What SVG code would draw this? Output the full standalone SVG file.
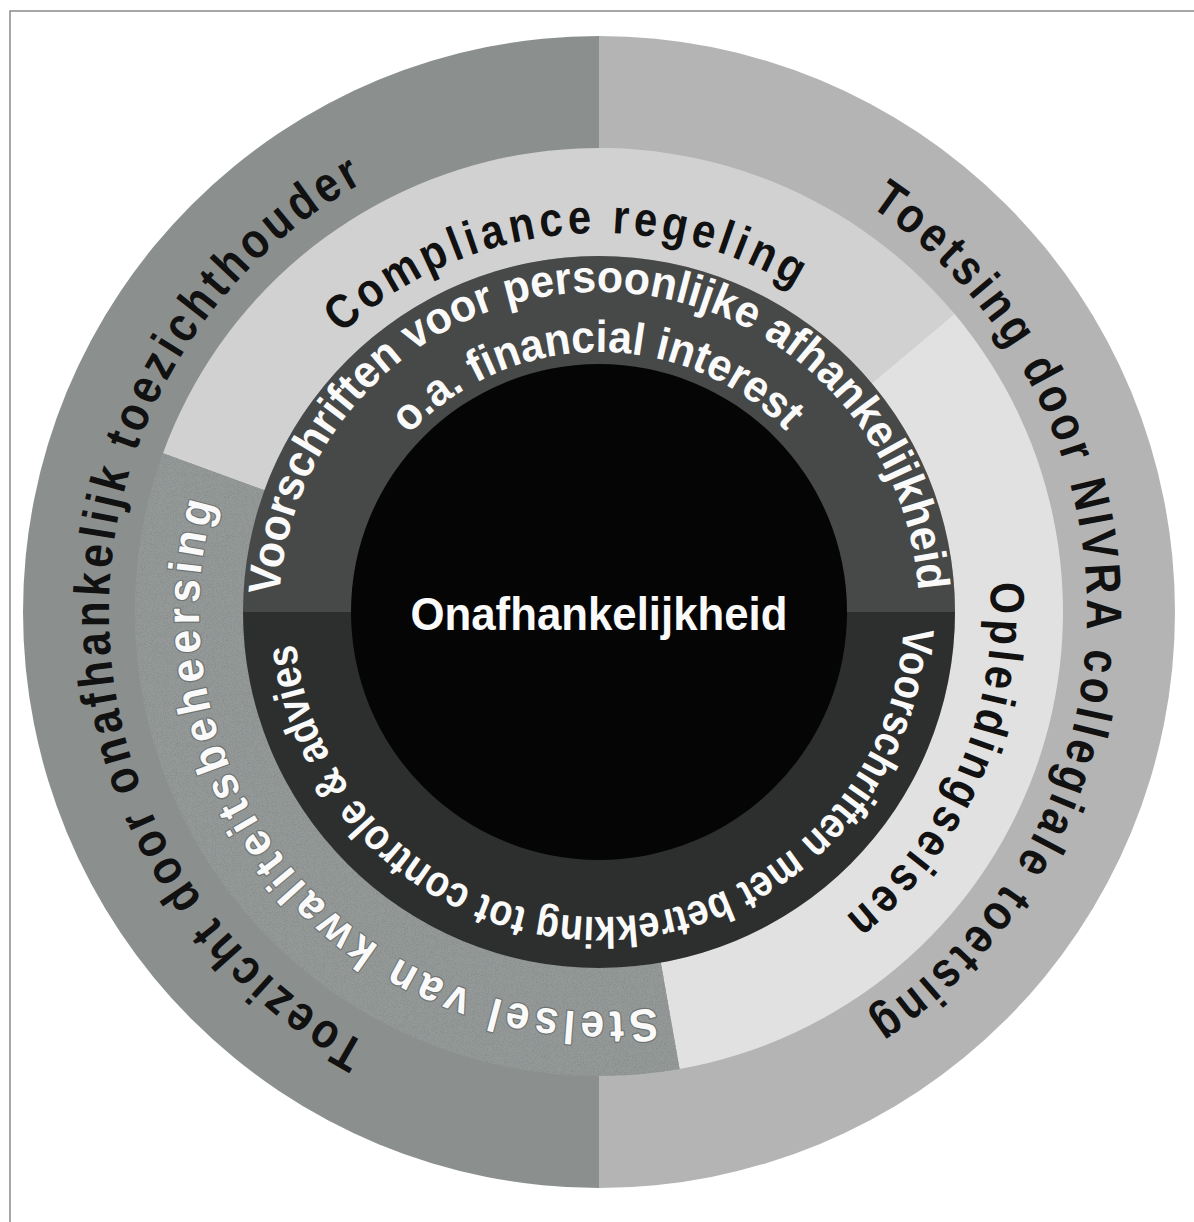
<svg xmlns="http://www.w3.org/2000/svg" xmlns:xlink="http://www.w3.org/1999/xlink" width="1194" height="1222" viewBox="0 0 1194 1222">
<style>
.lbl{font-family:"Liberation Sans",Arial,Helvetica,sans-serif;font-weight:bold;}
.blk{fill:#111;}
.wht{fill:#fafafa;}
.out{fill:#fafafa;stroke:#6f7473;stroke-width:2.5;paint-order:stroke;stroke-linejoin:round;}
</style>
<defs>
<filter id="speckle" x="0" y="0" width="1" height="1">
<feTurbulence type="fractalNoise" baseFrequency="0.9" numOctaves="2" seed="7" result="noise"/>
<feColorMatrix in="noise" type="matrix" values="0 0 0 0 0.26 0 0 0 0 0.28 0 0 0 0 0.28 0 0 0 -12 5.8" result="dots"/>
<feComposite in="dots" in2="SourceGraphic" operator="in" result="d2"/>
<feMerge><feMergeNode in="SourceGraphic"/><feMergeNode in="d2"/></feMerge>
</filter>
<path id="pA" d="M366.70 1043.44 A490 490 0 0 1 513.91 129.44"/>
<path id="pB" d="M869.76 206.01 A488 488 0 0 1 725.30 1083.37"/>
<path id="pC" d="M341.49 333.92 A379 379 0 0 1 889.33 368.38"/>
<path id="pD" d="M989.90 582.61 A392 392 0 0 1 700.46 990.64"/>
<path id="pE" d="M656.05 1007.91 A400 400 0 0 1 292.58 354.88"/>
<path id="pF" d="M279.44 595.25 A320 320 0 1 1 914.14 667.57"/>
<path id="pG" d="M408.85 434.68 A260 260 0 0 1 843.32 523.07"/>
<path id="pH" d="M903.58 627.96 A305 305 0 1 1 312.40 507.68"/>
</defs>
<rect x="0" y="0" width="1194" height="1222" fill="#fff"/>
<rect id="frame" x="10" y="11" width="1200" height="1230" fill="none" stroke="#8a8a8a" stroke-width="1.5"/>

<g id="ring-outer-left">
<path d="M599 36 A576 576 0 0 0 599 1188 Z" fill="#8b908f"/>
</g>
<g id="ring-outer-right">
<path d="M599 36 A576 576 0 0 1 599 1188 Z" fill="#b4b4b4"/>
</g>
<g id="seg-compliance">
<path d="M162.98 453.30 A464 464 0 0 1 954.44 313.75 L871.71 383.17 A356 356 0 0 0 264.47 490.24 Z" fill="#d1d1d1"/>
</g>
<g id="seg-opleiding">
<path d="M954.44 313.75 A464 464 0 0 1 679.57 1068.95 L660.82 962.59 A356 356 0 0 0 871.71 383.17 Z" fill="#e1e1e1"/>
</g>
<g id="seg-stelsel">
<path d="M679.57 1068.95 A464 464 0 0 1 162.98 453.30 L264.47 490.24 A356 356 0 0 0 660.82 962.59 Z" fill="#949998" filter="url(#speckle)"/>
</g>
<g id="ring-dark-top">
<path d="M243 612 A356 356 0 0 1 955 612 Z" fill="#464948"/>
</g>
<g id="ring-dark-bottom">
<path d="M955 612 A356 356 0 0 1 243 612 Z" fill="#2c2f2e"/>
</g>
<g id="core">
<circle cx="599" cy="612" r="248" fill="#050505"/>
<text class="lbl wht" x="410.5" y="630" font-size="47" textLength="377" lengthAdjust="spacingAndGlyphs">Onafhankelijkheid</text>
</g>

<g id="labels">
<text class="lbl blk" font-size="50" letter-spacing="5"><textPath href="#pA" xlink:href="#pA" textLength="1055" lengthAdjust="spacingAndGlyphs">Toezicht door onafhankelijk toezichthouder</textPath></text>
<text class="lbl blk" font-size="50" letter-spacing="5"><textPath href="#pB" xlink:href="#pB" textLength="964" lengthAdjust="spacingAndGlyphs">Toetsing door NIVRA collegiale toetsing</textPath></text>
<text class="lbl blk" font-size="48" letter-spacing="5"><textPath href="#pC" xlink:href="#pC" textLength="493" lengthAdjust="spacingAndGlyphs">Compliance regeling</textPath></text>
<text class="lbl blk" font-size="48" letter-spacing="5"><textPath href="#pD" xlink:href="#pD" textLength="383" lengthAdjust="spacingAndGlyphs">Opleidingseisen</textPath></text>
<text class="lbl out" font-size="46" letter-spacing="5"><textPath href="#pE" xlink:href="#pE" textLength="800" lengthAdjust="spacingAndGlyphs">Stelsel van kwaliteitsbeheersing</textPath></text>
<text class="lbl wht" font-size="45"><textPath href="#pF" xlink:href="#pF" textLength="967" lengthAdjust="spacingAndGlyphs">Voorschriften voor persoonlijke afhankelijkheid</textPath></text>
<text class="lbl wht" font-size="45"><textPath href="#pG" xlink:href="#pG" textLength="422" lengthAdjust="spacingAndGlyphs">o.a. financial interest</textPath></text>
<text class="lbl wht" font-size="44"><textPath href="#pH" xlink:href="#pH" textLength="910" lengthAdjust="spacingAndGlyphs">Voorschriften met betrekking tot controle &amp; advies</textPath></text>
</g>
</svg>
